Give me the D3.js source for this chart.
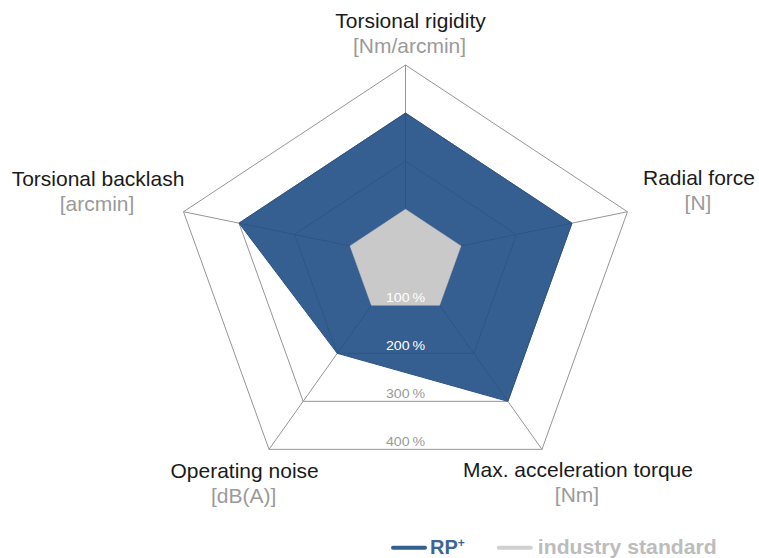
<!DOCTYPE html>
<html>
<head>
<meta charset="utf-8">
<script src="https://cdn.jsdelivr.net/npm/d3@7/dist/d3.min.js"></script>
<style>
  html, body { margin: 0; padding: 0; background: #fff; }
  svg { display: block; font-family: "Helvetica Neue", Helvetica, "Liberation Sans", Arial, sans-serif; }
</style>
</head>
<body>
<svg id="chart" width="759" height="558"></svg>
<script>
// Performance profile: RP+ gearbox versus industry standard (100 %)
const axisNames = ["Torsional rigidity", "Radial force", "Max. acceleration torque", "Operating noise", "Torsional backlash"];
const axisUnits = ["[Nm/arcmin]", "[N]", "[Nm]", "[dB(A)]", "[arcmin]"];
const rpPlus = [300, 300, 300, 200, 300];
const industryStandard = [100, 100, 100, 100, 100];
const ringTicks = [100, 200, 300, 400];
const seriesNames = ["RP", "industry standard"];

// Layout of the web: centre, spoke directions (deg, clockwise from up) and spoke lengths at 400 %
const W = 759, H = 558;
const cx = 405.5, cy = 257.3;
const spokeAngle = [0, 78.4, 144.6, 215.4, 281.6];
const spokeLength = [192.3, 226.6, 235.6, 235.6, 226.6];
// Axis title anchor relative to each spoke tip
const titleOffset = [[5, -37.5], [71.5, -26.7], [36, 27.7], [-24.4, 28.7], [-85.5, -25.7]];
const textWiden = 1.05;   // slightly wide set type

const colors = { rp: "#1f4d85", rpLine: "#2b5283", rpLegend: "#33608f", rpText: "#3a6596",
                 std: "#c8c9c8", stdLegend: "#d0d0d0", stdText: "#bcbcbc",
                 grid: "#959595", title: "#1a1a1a", unit: "#9a9a9a" };

const r = d3.scaleLinear().domain([0, d3.max(ringTicks)]).range([0, 1]);

function pt(i, v) {
  const a = spokeAngle[i] * Math.PI / 180, k = r(v) * spokeLength[i];
  return [cx + k * Math.sin(a), cy - k * Math.cos(a)];
}
const poly = vals => vals.map((v, i) => pt(i, v));
const line = d3.line().curve(d3.curveLinearClosed);

const svg = d3.select("#chart");
svg.append("rect").attr("width", W).attr("height", H).attr("fill", "#fff");

// Grid: rings and spokes
const grid = svg.append("g").attr("fill", "none").attr("stroke", colors.grid).attr("stroke-width", 1);
grid.selectAll("path.ring").data(ringTicks).join("path")
  .attr("class", "ring")
  .attr("d", t => line(axisNames.map((_, i) => pt(i, t))));
grid.selectAll("line.spoke").data(axisNames).join("line")
  .attr("class", "spoke")
  .attr("x1", cx).attr("y1", cy)
  .attr("x2", (_, i) => pt(i, d3.max(ringTicks))[0])
  .attr("y2", (_, i) => pt(i, d3.max(ringTicks))[1]);

// RP+ area (translucent so the grid shows through faintly)
const rpPoly = poly(rpPlus);
svg.append("path")
  .attr("d", line(rpPoly))
  .attr("fill", colors.rp).attr("fill-opacity", 0.9)
  .attr("stroke", colors.rpLine).attr("stroke-width", 1).attr("stroke-linejoin", "round");

// Industry standard area
const stdPoly = poly(industryStandard);
svg.append("path")
  .attr("d", line(stdPoly))
  .attr("fill", colors.std).attr("stroke", colors.std).attr("stroke-width", 0.5);

// Ring labels along the bottom edge of each ring
const pctFmt = t => t + "\u2009%";
svg.append("g").selectAll("text").data(ringTicks).join("text")
  .each(function (t) {
    const y = pt(2, t)[1] - 3;
    const inside = d3.polygonContains(rpPoly, [cx, y - 5]) || d3.polygonContains(stdPoly, [cx, y - 5]);
    d3.select(this).attr("transform", `translate(${cx},${y}) scale(${textWiden},1)`)
      .attr("fill", inside ? "#ffffff" : colors.unit);
  })
  .attr("text-anchor", "middle")
  .attr("font-size", 13.5)
  .text(pctFmt);

// Axis titles and units
const titles = svg.append("g").attr("text-anchor", "middle");
axisNames.forEach((name, i) => {
  const tip = pt(i, d3.max(ringTicks));
  const x = tip[0] + titleOffset[i][0], y = tip[1] + titleOffset[i][1];
  titles.append("text").attr("transform", `translate(${x},${y}) scale(${textWiden},1)`)
    .attr("font-size", 20).attr("fill", colors.title).text(name);
  titles.append("text").attr("transform", `translate(${x - 1},${y + 25}) scale(${textWiden},1)`)
    .attr("font-size", 20).attr("fill", colors.unit).text(axisUnits[i]);
});

// Legend
const legend = svg.append("g").attr("font-weight", "bold").attr("font-size", 20);
const legY = 547.7;
let lx = 393;
legend.append("line").attr("x1", lx).attr("x2", lx + 32).attr("y1", legY).attr("y2", legY)
  .attr("stroke", colors.rpLegend).attr("stroke-width", 4).attr("stroke-linecap", "round");
const t1 = legend.append("text").attr("transform", `translate(${lx + 37},${legY + 6.5})`).attr("fill", colors.rpText);
t1.append("tspan").text(seriesNames[0]);
t1.append("tspan").attr("font-size", 12).attr("dy", -7).text("+");
lx = lx + 37 + t1.node().getComputedTextLength() + 34;
legend.append("line").attr("x1", lx).attr("x2", lx + 32).attr("y1", legY).attr("y2", legY)
  .attr("stroke", colors.stdLegend).attr("stroke-width", 4).attr("stroke-linecap", "round");
legend.append("text").attr("transform", `translate(${lx + 39},${legY + 6.5}) scale(1.06,1)`)
  .attr("fill", colors.stdText)
  .text(seriesNames[1]);
</script>
</body>
</html>
